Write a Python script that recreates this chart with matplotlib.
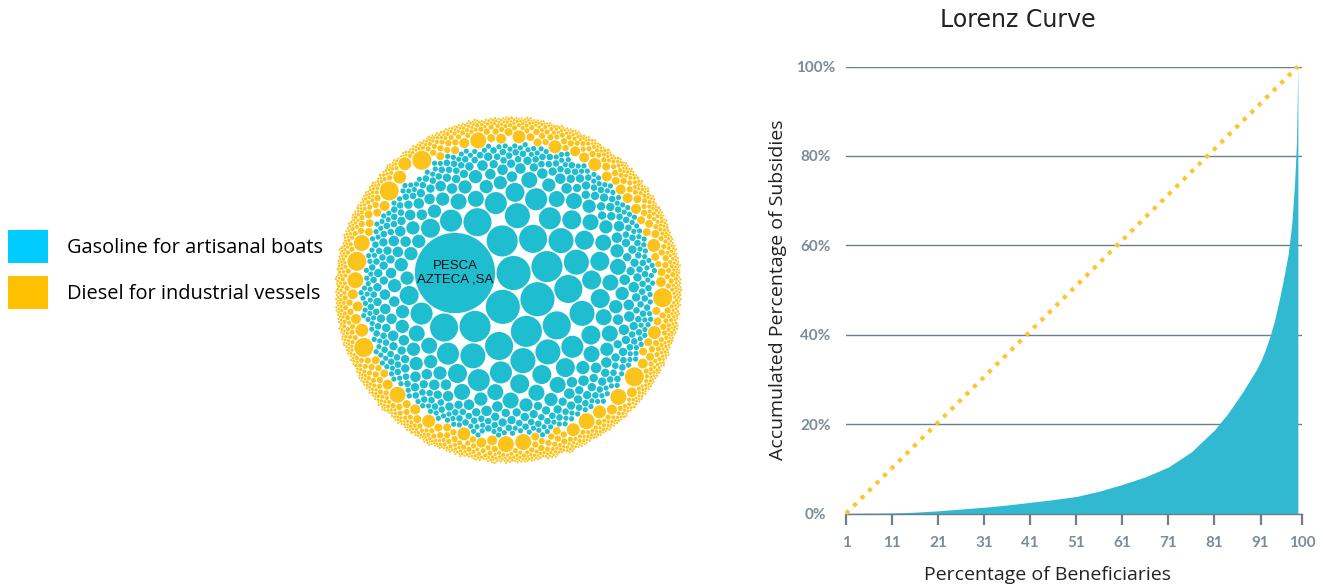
import math

import matplotlib
matplotlib.use('Agg')
import matplotlib.pyplot as plt
import numpy as np
from matplotlib.collections import PatchCollection
from matplotlib.patches import Circle, Patch

# subsidy per beneficiary (relative units) and how many beneficiaries get it
gas_subsidy = [1600, 289, 240, 196, 156, 121, 90, 64, 44, 28, 17.6, 10.9, 6.8]
gas_count = [1, 3, 4, 6, 7, 9, 13, 19, 29, 46, 76, 128, 190]
diesel_subsidy = [90, 64, 42, 25, 16, 10, 6.8, 4.4, 2.9, 2.0, 1.2]
diesel_count = [6, 8, 12, 20, 32, 56, 88, 136, 200, 264, 320]
top_beneficiary = 'PESCA\nAZTECA ,SA'
legend_labels = ['Gasoline for artisanal boats', 'Diesel for industrial vessels']

# Lorenz curve: cumulative % of beneficiaries vs cumulative % of subsidies
beneficiaries = [1, 6, 11, 16, 21, 26, 31, 36, 41, 46, 51, 56, 61, 66, 71, 76,
                 81, 84, 87, 90, 91, 92, 93, 94, 95, 96, 97, 97.8, 98.4,
                 98.8, 99.1]
subsidies = [0, 0.05, 0.1, 0.3, 0.6, 1.0, 1.4, 1.9, 2.5, 3.1, 3.8, 5.0, 6.5,
             8.2, 10.4, 13.8, 18.7, 22.5, 27, 32, 34, 36.5, 39.5, 43, 47.5,
             52.5, 58, 65, 74, 83, 100]
x_ticks = [1, 11, 21, 31, 41, 51, 61, 71, 81, 91, 100]
y_ticks = [0, 20, 40, 60, 80, 100]

GAS_COLOR = '#1FBDD0'
DIESEL_COLOR = '#FCC41A'
FILL_COLOR = '#30B9D1'
DOT_COLOR = '#FDC62F'
GRID_COLOR = '#6E7E89'
TICK_COLOR = '#7A8C99'
TEXT_COLOR = '#222222'


def pack_circles(radii):
    """Front-chain circle packing (same scheme as d3.packSiblings)."""
    rs = list(radii)
    n = len(rs)
    xs = [0.0] * n
    ys = [0.0] * n

    def place(b, a, c):
        dx = xs[b] - xs[a]
        dy = ys[b] - ys[a]
        d2 = dx * dx + dy * dy
        if d2:
            a2 = (rs[a] + rs[c]) ** 2
            b2 = (rs[b] + rs[c]) ** 2
            if a2 > b2:
                t = (d2 + b2 - a2) / (2 * d2)
                h = math.sqrt(max(0.0, b2 / d2 - t * t))
                xs[c] = xs[b] - t * dx - h * dy
                ys[c] = ys[b] - t * dy + h * dx
            else:
                t = (d2 + a2 - b2) / (2 * d2)
                h = math.sqrt(max(0.0, a2 / d2 - t * t))
                xs[c] = xs[a] + t * dx - h * dy
                ys[c] = ys[a] + t * dy + h * dx
        else:
            xs[c] = xs[a] + rs[c]
            ys[c] = ys[a]

    def intersects(p, q):
        dr = rs[p] + rs[q] - 1e-6
        dx = xs[q] - xs[p]
        dy = ys[q] - ys[p]
        return dr > 0 and dr * dr > dx * dx + dy * dy

    def score(p, nxt):
        q = nxt[p]
        ab = rs[p] + rs[q]
        dx = (xs[p] * rs[q] + xs[q] * rs[p]) / ab
        dy = (ys[p] * rs[q] + ys[q] * rs[p]) / ab
        return dx * dx + dy * dy

    xs[0] = -rs[1]
    xs[1] = rs[0]
    place(1, 0, 2)

    nxt = [0] * n
    prv = [0] * n
    a, b, c = 0, 1, 2
    nxt[a] = b; prv[c] = b
    nxt[b] = c; prv[a] = c
    nxt[c] = a; prv[b] = a

    i = 3
    while i < n:
        place(a, b, i)
        j, k = nxt[b], prv[a]
        sj, sk = rs[b], rs[a]
        retry = False
        while True:
            if sj <= sk:
                if intersects(j, i):
                    b = j
                    nxt[a] = b; prv[b] = a
                    retry = True
                    break
                sj += rs[j]
                j = nxt[j]
            else:
                if intersects(k, i):
                    a = k
                    nxt[a] = b; prv[b] = a
                    retry = True
                    break
                sk += rs[k]
                k = prv[k]
            if j == nxt[k]:
                break
        if retry:
            continue

        prv[i] = a; nxt[i] = b
        nxt[a] = i; prv[b] = i
        b = i
        aa = score(a, nxt)
        c = nxt[i]
        while c != i:
            ca = score(c, nxt)
            if ca < aa:
                a, aa = c, ca
            c = nxt[c]
        b = nxt[a]
        i += 1

    xs = np.array(xs)
    ys = np.array(ys)
    r = np.array(rs)
    cx = ((xs - r).min() + (xs + r).max()) / 2
    cy = ((ys - r).min() + (ys + r).max()) / 2
    xs -= cx
    ys -= cy
    outer = (np.hypot(xs, ys) + r).max()
    return xs, ys, outer


W, H = 1323, 588
fig = plt.figure(figsize=(W / 100, H / 100), dpi=100)

# ---- bubble pack: gasoline first (largest in the middle), diesel around it
gas_r = list(np.sqrt(np.repeat(gas_subsidy, gas_count)))
# the top beneficiary goes in after the first large bubbles, so it sits off-centre
gas_r.insert(2, gas_r.pop(0))
diesel_r = list(np.sqrt(np.repeat(diesel_subsidy, diesel_count)))
radii = np.array(gas_r + diesel_r)
colors = [GAS_COLOR] * len(gas_r) + [DIESEL_COLOR] * len(diesel_r)
pad = np.clip(0.1 * radii, 0.15, 0.7)
px, py, outer = pack_circles(radii + pad)
top = int(np.argmax(radii))

# turn the layout so the biggest bubble sits left of centre
ang = math.atan2(0.32, -1.0) - math.atan2(py[top], px[top])
ca, sa = math.cos(ang), math.sin(ang)
px, py = px * ca - py * sa, px * sa + py * ca

ax_b = fig.add_axes([333 / W, (H - 465) / H, 350 / W, 350 / H])
circles = [Circle((x, y), r) for x, y, r in zip(px, py, radii)]
ax_b.add_collection(PatchCollection(circles, facecolors=colors,
                                    edgecolors='none', linewidths=0))
ax_b.text(px[top], py[top], top_beneficiary, ha='center', va='center',
          fontsize=9.5, family='Liberation Sans', color='#111111',
          linespacing=1.15)
ax_b.set_xlim(-outer, outer)
ax_b.set_ylim(-outer, outer)
ax_b.set_aspect('equal')
ax_b.axis('off')

handles = [Patch(facecolor='#00CCFF'), Patch(facecolor='#FFC000')]
fig.legend(handles, legend_labels, loc='upper left',
           bbox_to_anchor=(8 / W, 1 - 230 / H), frameon=False,
           borderpad=0, borderaxespad=0, handlelength=2.0,
           handleheight=2.15, handletextpad=0.97, labelspacing=0.68,
           prop={'family': 'Open Sans', 'size': 14.4})

# ---- Lorenz curve
ax = fig.add_axes([846 / W, (H - 513.5) / H, 456 / W, 447 / H])
ax.fill_between(beneficiaries, subsidies, color=FILL_COLOR, lw=0, zorder=2)
ax.plot([beneficiaries[0], beneficiaries[-1]], [subsidies[0], subsidies[-1]],
        color=DOT_COLOR, lw=3, linestyle=(0, (1, 1.53)),
        dash_capstyle='butt', clip_on=False, zorder=3)

ax.set_xlim(1, 100)
ax.set_ylim(0, 100)
ax.set_xticks(x_ticks, labels=[str(t) for t in x_ticks])
ax.set_yticks(y_ticks, labels=[f'{t}%' for t in y_ticks], ha='center')
ax.yaxis.grid(True, color=GRID_COLOR, lw=1)
ax.set_axisbelow(True)
for side in ['top', 'right', 'left']:
    ax.spines[side].set_visible(False)
ax.spines['bottom'].set_color(GRID_COLOR)
ax.spines['bottom'].set_linewidth(1)
ax.tick_params(axis='x', direction='out', length=8, width=1.6,
               color=GRID_COLOR, pad=8, labelcolor=TICK_COLOR)
ax.tick_params(axis='y', length=0, pad=22, labelcolor=TICK_COLOR)
for lbl in ax.get_xticklabels() + ax.get_yticklabels():
    lbl.set_fontfamily('Lato')
    lbl.set_fontweight('bold')
    lbl.set_fontsize(11)

ax.set_xlabel('Percentage of Beneficiaries', fontsize=14, family='Open Sans',
              color=TEXT_COLOR)
ax.xaxis.set_label_coords(0.441, -0.118)
ax.set_ylabel('Accumulated Percentage of Subsidies', fontsize=14,
              family='Open Sans', color=TEXT_COLOR)
ax.yaxis.set_label_coords(-0.13, 0.5)

fig.text(1018 / W, 1 - 20 / H, 'Lorenz Curve', ha='center', va='center',
         fontsize=17, family='DejaVu Sans', color=TEXT_COLOR)

fig.savefig('out.png', dpi=100)
